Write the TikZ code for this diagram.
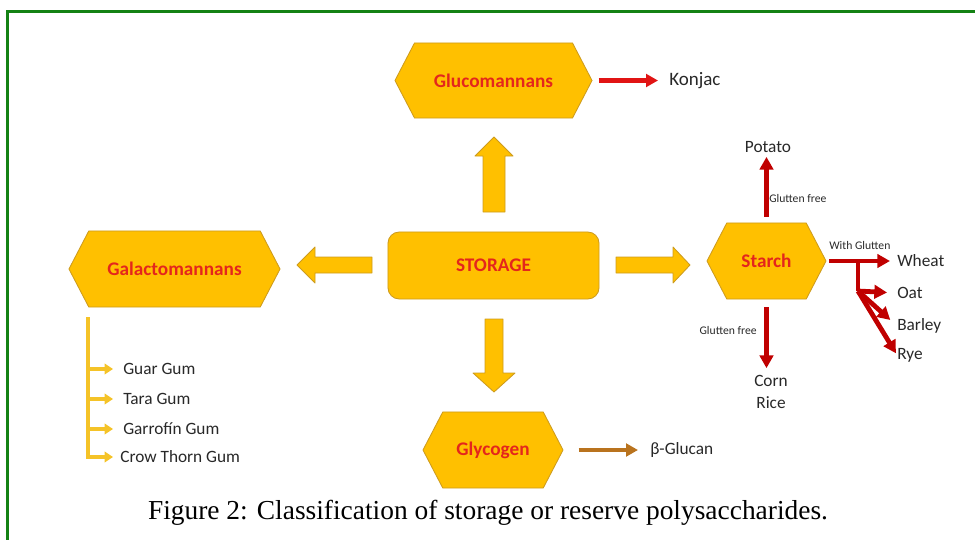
\documentclass[tikz,border=0pt]{standalone}
\usepackage{fontspec}
\setmainfont{Carlito}
\newfontfamily\capfont{Liberation Serif}
\usetikzlibrary{positioning}
\usetikzlibrary{shapes.symbols,arrows.meta}

\definecolor{gold}{RGB}{255,192,0}
\definecolor{goldline}{RGB}{205,155,30}
\definecolor{hexred}{RGB}{228,38,28}
\definecolor{konjred}{RGB}{225,20,20}
\definecolor{darkred}{RGB}{192,0,0}
\definecolor{brown}{RGB}{185,115,30}
\definecolor{galgold}{RGB}{245,195,40}
\definecolor{txt}{RGB}{40,40,40}
\definecolor{framegreen}{RGB}{20,130,20}

\begin{document}
\begin{tikzpicture}[x=0.025cm,y=-0.025cm,
  hexa/.style={signal,signal to=east and west,signal pointer angle=125,draw=goldline,fill=gold,
    line width=0.6pt,text=hexred,font=\fontsize{13.7}{16}\selectfont\bfseries,inner sep=0pt},
  fat/.style={draw=goldline,fill=gold,line width=0.6pt,line join=round},
  lbl/.style={inner sep=0pt,text=txt,font=\fontsize{12.3}{14.5}\selectfont},
  small/.style={inner sep=0pt,text=txt,font=\fontsize{8.3}{10}\selectfont},
  konj/.style={konjred,line width=2.85pt,-{Triangle[length=8.5pt,width=9pt]}},
  starr/.style={darkred,line width=3.4pt,-{Triangle[length=9pt,width=9.5pt]}},
  glyarr/.style={brown,line width=2.85pt,-{Triangle[length=8.5pt,width=9pt]}},
  garr/.style={galgold,line width=2.6pt,-{Triangle[length=6pt,width=7.5pt]}}]
\useasboundingbox (0,0) rectangle (975,540);
\draw[framegreen,line width=1.8pt] (975,11.3) -- (7.3,11.3) -- (7.3,540);

% storage and the four kinds
\node[fat,rounded corners=8pt,minimum width=5.275cm,minimum height=1.675cm,
  text=hexred,font=\fontsize{13.7}{16}\selectfont\bfseries] (storage) at (493.5,265.5) {STORAGE};
\node[hexa,minimum width=4.925cm,minimum height=1.875cm] (gluco) at (493.5,80.5) {Glucomannans};
\node[hexa,minimum width=5.275cm,minimum height=1.9cm] (galacto) at (174.5,269) {Galactomannans};
\node[hexa,minimum width=2.975cm,minimum height=1.9cm] (starch) at (766.5,261) {Starch};
\node[hexa,minimum width=3.5cm,minimum height=1.9cm] (glyco) at (493,450) {Glycogen};

% block arrows
\filldraw[fat] (483,212) -- (483,156) -- (475,156) -- (494,137) -- (513,156) -- (505,156) -- (505,212) -- cycle;
\filldraw[fat] (485,319) -- (485,373) -- (473,373) -- (494,392) -- (515,373) -- (503,373) -- (503,319) -- cycle;
\filldraw[fat] (616,257) -- (673,257) -- (673,247) -- (690,265) -- (673,283) -- (673,273) -- (616,273) -- cycle;
\filldraw[fat] (372,257) -- (315,257) -- (315,247) -- (297,265) -- (315,283) -- (315,273) -- (372,273) -- cycle;

% glucomannans
\node[lbl,anchor=west,font=\fontsize{13.5}{16}\selectfont] (konjac) at (669,81) {Konjac};
\draw[konj,shorten <=0.15cm,shorten >=0.275cm] (gluco.east) -- (gluco.east -| konjac.west);

% glycogen
\node[lbl,anchor=west] (beta) at (650,450) {β-Glucan};
\draw[glyarr,shorten <=0.375cm,shorten >=0.3cm] (glyco.east) -- (glyco.east -| beta.west);

% galactomannans
\coordinate (gtop) at (88,317);
\node[lbl,anchor=west] (guar) at (123,369) {Guar Gum};
\node[lbl,anchor=west] (tara) at (123,399) {Tara Gum};
\node[lbl,anchor=west] (garro) at (123,429) {Garrofín Gum};
\node[lbl,anchor=west] (crow) at (120,457) {Crow Thorn Gum};
\draw[garr,shorten >=0.175cm] (gtop) |- (crow.west);
\draw[garr,shorten >=0.25cm] (gtop |- guar.west) -- (guar.west);
\draw[garr,shorten >=0.25cm] (gtop |- tara.west) -- (tara.west);
\draw[garr,shorten >=0.25cm] (gtop |- garro.west) -- (garro.west);

% starch
\node[lbl] (potato) at (768,147) {Potato};
\node[small,anchor=west] (free1) at (769,198) {Glutten free};
\node[lbl,align=center] (corn) at (771,392) {Corn\\[1pt]Rice};
\node[small,anchor=east] (free2) at (757,330) {Glutten free};
\node[small,anchor=west] (withg) at (829,245) {With Glutten};
\node[lbl,anchor=west] (wheat) at (897,261) {Wheat};
\node[lbl,anchor=west] (oat) at (897,293) {Oat};
\node[lbl,anchor=west] (barley) at (897,326) {Barley};
\node[lbl,anchor=west] (rye) at (897,355) {Rye};
\coordinate (fork) at (858,291);
\draw[starr,shorten <=0.15cm,shorten >=0.1cm] (starch.north) -- (starch.north |- potato.south);
\draw[starr,shorten <=0.2cm,shorten >=0.175cm] (starch.south) -- (starch.south |- corn.north);
\draw[starr,shorten <=0.075cm,shorten >=0.175cm] (starch.east) -- (wheat.west);
\draw[darkred,line width=3.4pt] (fork |- wheat) -- (fork);
\draw[starr,shorten >=0.25cm] (fork) -- (oat.west);
\draw[starr,shorten >=0.225cm] (fork) -- (barley.west);
\draw[starr,shorten >=0.05cm] (fork) -- (rye.west);

\node[font=\capfont\fontsize{19.5}{22}\selectfont] (caption) at (488,513)
  {Figure 2: Classification of storage or reserve polysaccharides.};
\end{tikzpicture}
\end{document}
